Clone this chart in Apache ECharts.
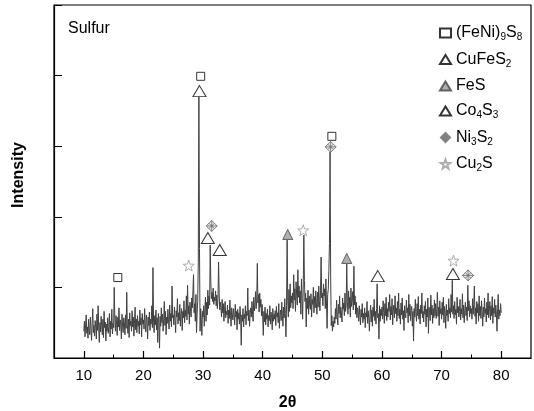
<!DOCTYPE html>
<html>
<head>
<meta charset="utf-8">
<script src="https://cdn.jsdelivr.net/npm/echarts@6/dist/echarts.min.js"></script>
<style>
  html, body { margin: 0; padding: 0; background: #fff; }
  #chart { width: 534px; height: 411px; }
</style>
</head>
<body>
<div id="chart"></div>
<script>
// XRD scan of the sulfur product: 2θ from 10° to 80° in 0.1° steps
const scanStart = 10;
const scanStep = 0.1;
const intensity = [
  0.38,0.52,0.30,0.47,0.61,0.35,0.44,0.28,0.55,0.40, // 10
  0.33,0.58,0.42,0.25,0.49,0.70,0.36,0.46,0.31,0.53, // 11
  0.44,0.27,0.62,0.39,0.74,0.41,0.22,0.50,0.37,0.59, // 12
  0.46,0.33,0.55,0.29,0.66,0.43,0.51,0.24,0.48,0.38, // 13
  0.57,0.35,0.45,0.63,0.30,0.52,0.41,0.69,0.34,0.49, // 14
  0.43,1.00,0.56,0.38,0.60,0.47,0.32,0.58,0.44,0.71, // 15
  0.39,0.54,0.48,0.27,0.62,0.45,0.36,0.57,0.50,0.33, // 16
  0.61,0.42,0.93,0.47,0.35,0.55,0.29,0.64,0.46,0.52, // 17
  0.38,0.67,0.44,0.58,0.31,0.49,0.72,0.40,0.55,0.36, // 18
  0.60,0.45,0.52,0.34,0.68,0.47,0.57,0.30,0.63,0.48, // 19
  0.54,0.41,0.70,0.49,0.37,0.61,0.52,0.27,0.58,0.46, // 20
  0.65,0.39,0.55,0.48,0.74,0.43,1.28,0.50,0.36,0.60, // 21
  0.47,0.68,0.40,0.57,0.22,0.63,0.51,0.14,0.59,0.45, // 22
  0.71,0.50,0.62,0.38,0.55,0.80,0.46,0.66,0.33,0.58, // 23
  0.49,0.69,0.54,0.41,0.75,0.52,0.63,0.44,1.02,0.57, // 24
  0.61,0.47,0.72,0.55,0.36,0.67,0.58,0.84,0.48,0.64, // 25
  0.53,0.76,0.45,0.63,0.70,0.39,0.66,0.57,0.81,0.50, // 26
  0.68,0.59,0.88,0.54,1.03,0.62,0.74,0.48,0.79,0.66, // 27
  0.58,0.85,0.71,0.95,1.18,0.64,0.77,0.52,0.90,0.36, // 28
  0.62,0.80,1.35,3.70,1.55,0.38,0.70,0.55,0.32,0.66, // 29
  0.58,0.74,0.45,0.68,0.86,0.52,0.79,0.61,0.96,0.70, // 30
  0.88,0.75,1.60,1.08,0.84,0.93,0.80,0.99,0.76,0.86, // 31
  0.81,0.95,0.74,0.89,0.70,0.84,1.36,0.92,0.68,0.79, // 32
  0.72,0.58,0.83,0.64,0.77,0.52,0.69,0.80,0.57,0.66, // 33
  0.61,0.75,0.49,0.68,0.56,0.82,0.60,0.45,0.71,0.63, // 34
  0.54,0.70,0.62,0.47,0.76,0.58,0.66,0.40,0.69,0.55, // 35
  0.64,0.48,0.73,0.57,0.18,0.61,0.52,0.70,0.44,0.62, // 36
  0.56,0.74,0.47,0.66,0.60,0.99,0.53,0.68,0.45,0.63, // 37
  0.71,0.58,0.80,0.62,0.52,0.86,0.67,0.75,0.94,0.70, // 38
  0.82,1.34,0.78,0.90,0.65,0.92,0.72,0.83,0.60,0.76, // 39
  0.58,0.32,0.66,0.51,0.72,0.47,0.63,0.55,0.69,0.44, // 40
  0.60,0.53,0.74,0.48,0.65,0.57,0.40,0.70,0.52,0.62, // 41
  0.55,0.67,0.46,0.73,0.58,0.64,0.50,0.77,0.42,0.61, // 42
  0.68,0.53,0.79,0.60,0.45,0.72,0.57,0.84,0.63,0.30, // 43
  0.74,1.67,0.82,0.58,0.97,0.66,1.05,0.71,0.88,0.78, // 44
  0.92,0.70,1.18,0.82,0.98,0.66,1.08,0.88,0.75,1.25, // 45
  0.86,1.02,0.78,0.95,0.62,1.12,0.84,0.55,0.99,1.74, // 46
  1.10,0.80,0.92,0.44,0.85,0.70,0.96,0.62,0.88,0.74, // 47
  0.69,0.91,0.58,0.83,0.76,1.00,0.64,0.87,0.71,0.95, // 48
  0.78,0.62,0.93,0.72,1.02,0.81,0.67,0.96,1.43,0.85, // 49
  0.92,0.74,1.05,0.88,0.98,0.70,1.12,1.10,0.42,0.90, // 50
  0.97,1.24,1.62,2.92,1.15,0.46,0.60,0.38,0.52,0.44, // 51
  0.58,0.49,0.70,0.55,0.82,0.61,0.47,0.76,0.63,0.88, // 52
  0.57,0.72,0.64,0.51,0.85,0.69,0.78,0.60,0.92,0.66, // 53
  0.74,1.33,0.80,0.62,0.95,0.70,0.86,0.58,0.99,0.73, // 54
  0.81,0.94,0.68,1.30,0.75,0.88,0.62,0.79,0.57,0.71, // 55
  0.66,0.52,0.74,0.60,0.47,0.69,0.58,0.77,0.50,0.63, // 56
  0.55,0.71,0.43,0.64,0.58,0.80,0.49,0.67,0.56,0.38, // 57
  0.62,0.75,0.51,0.68,0.45,0.72,0.59,0.83,0.53,0.66, // 58
  0.48,0.70,1.05,0.57,0.63,0.27,0.74,0.52,0.69,0.60, // 59
  0.72,0.55,0.81,0.64,0.49,0.77,0.60,0.86,0.53,0.70, // 60
  0.58,0.79,0.66,0.90,0.54,0.73,0.61,0.84,0.47,0.68, // 61
  0.75,0.57,0.88,0.63,0.71,0.52,0.80,0.60,0.92,0.56, // 62
  0.69,0.48,0.78,0.61,0.85,0.55,0.67,0.39,0.74,0.62, // 63
  0.57,0.82,0.64,0.71,0.50,0.90,0.60,0.76,0.53,0.68, // 64
  0.73,0.45,0.66,0.24,0.70,0.58,0.83,0.62,0.52,0.77, // 65
  0.60,0.87,0.55,0.69,0.48,0.75,0.63,0.92,0.57,0.66, // 66
  0.51,0.74,0.62,0.80,0.44,0.69,0.58,0.85,0.35,0.72, // 67
  0.64,0.53,0.89,0.61,0.75,0.49,0.70,0.57,0.82,0.60, // 68
  0.77,0.56,0.68,0.93,0.59,0.72,0.46,0.81,0.63,0.70, // 69
  0.55,0.79,0.61,0.86,0.50,0.73,0.65,0.42,0.76,0.60, // 70
  0.68,0.52,0.84,0.63,0.71,0.57,0.90,0.65,1.10,0.62, // 71
  0.74,0.56,0.80,0.61,0.69,0.48,0.86,0.64,0.73,0.58, // 72
  0.66,0.83,0.54,0.70,0.62,0.91,0.57,0.75,0.50,0.68, // 73
  0.79,0.60,0.72,0.53,1.03,0.67,0.81,0.58,0.74,0.63, // 74
  0.70,0.55,0.84,0.62,0.76,1.02,0.59,0.71,0.48,0.80, // 75
  0.64,0.77,0.52,0.88,0.60,0.73,0.56,0.81,0.67,0.45, // 76
  0.72,0.58,0.85,0.63,0.70,0.51,0.79,0.61,0.92,0.57, // 77
  0.66,0.80,0.54,0.74,0.60,0.87,0.49,0.71,0.63,0.83, // 78
  0.58,0.75,0.62,0.38,0.70,0.90,0.55,0.68,0.60,0.77, // 79
  0.64                                               // 80
];

// Phase markers [2θ, height]
const feNiS = [[15.7, 1.14], [29.6, 3.99], [51.6, 3.14]];
const cuFeS2 = [[29.4, 3.78], [32.8, 1.53], [59.3, 1.16]];
const feS = [[44.2, 1.75], [54.1, 1.41]];
const co4S3 = [[30.8, 1.70], [71.9, 1.19]];
const ni3S2 = [[31.45, 1.87], [51.4, 2.99], [74.45, 1.17]];
const cu2S = [[27.6, 1.31], [46.8, 1.81], [72.0, 1.38]];

const majorTicks = [10, 20, 30, 40, 50, 60, 70, 80];
const minorTicks = [15, 25, 35, 45, 55, 65, 75];

const phaseNames = ['FeNiS', 'CuFeS2', 'FeS', 'Co4S3', 'Ni3S2', 'Cu2S'];
const phaseLabels = {
  'FeNiS': '{a|(FeNi)}{s|9}{a|S}{s|8}',
  'CuFeS2': '{a|CuFeS}{s|2}',
  'FeS': '{a|FeS}',
  'Co4S3': '{a|Co}{s|4}{a|S}{s|3}',
  'Ni3S2': '{a|Ni}{s|3}{a|S}{s|2}',
  'Cu2S': '{a|Cu}{s|2}{a|S}'
};

const scan = intensity.map((v, i) => [+(scanStart + i * scanStep).toFixed(1), v]);

const crossDiamond = 'path://M5,0 L10,5 L5,10 L0,5 Z M5,0 L5,10 M0,5 L10,5 M2.5,2.5 L7.5,7.5 M7.5,2.5 L2.5,7.5';
const starPath = 'path://M5,0 L6.2,3.6 L10,3.7 L7,6 L8.1,9.6 L5,7.5 L1.9,9.6 L3,6 L0,3.7 L3.8,3.6 Z';

const font = 'Liberation Sans, Arial, sans-serif';

const chart = echarts.init(document.getElementById('chart'), null, { renderer: 'canvas' });

chart.setOption({
  animation: false,
  backgroundColor: '#fff',
  title: {
    text: 'Sulfur',
    left: 63,
    top: 16,
    textStyle: { fontFamily: font, fontSize: 16, fontWeight: 'normal', color: '#000' }
  },
  legend: {
    orient: 'vertical',
    left: 434,
    top: 20,
    itemGap: 9,
    itemWidth: 11,
    itemHeight: 9,
    data: phaseNames,
    formatter: name => phaseLabels[name],
    textStyle: {
      fontFamily: font,
      color: '#000',
      rich: {
        a: { fontFamily: font, fontSize: 16, color: '#000', lineHeight: 19, verticalAlign: 'middle' },
        s: { fontFamily: font, fontSize: 10, color: '#000', lineHeight: 19, verticalAlign: 'bottom' }
      }
    }
  },
  grid: {
    left: 54, right: 3, top: 5, bottom: 53,
    outerBoundsMode: 'none',
    containLabel: false,
    show: true, borderColor: '#000', borderWidth: 1.2
  },
  xAxis: [
    {
      type: 'value', min: 5, max: 85, interval: 5,
      name: '2θ', nameLocation: 'middle', nameGap: 37,
      nameTextStyle: { fontFamily: font, fontSize: 16, fontWeight: 'bold', color: '#000', padding: [0, 10, 0, 0] },
      axisLine: { show: true, lineStyle: { color: '#000', width: 1.2 } },
      axisTick: { show: true, inside: true, length: 7, customValues: majorTicks, lineStyle: { color: '#000', width: 1.2 } },
      axisLabel: {
        customValues: majorTicks, margin: 10,
        fontFamily: font, fontSize: 15, color: '#000',
        formatter: v => (v % 10 === 0 && v >= 10 && v <= 80) ? String(v) : ''
      },
      splitLine: { show: false }
    },
    {
      type: 'value', min: 5, max: 85, interval: 5, position: 'bottom',
      axisLine: { show: false },
      axisTick: { show: true, inside: true, length: 3.5, customValues: minorTicks, lineStyle: { color: '#000', width: 1 } },
      axisLabel: { show: false },
      splitLine: { show: false }
    }
  ],
  yAxis: {
    type: 'value', min: 0, max: 5, interval: 1,
    name: 'Intensity', nameLocation: 'middle', nameGap: 27,
    nameTextStyle: { fontFamily: font, fontSize: 16, fontWeight: 'bold', color: '#000', padding: [0, 0, 0, 13] },
    axisLine: { show: true, lineStyle: { color: '#000', width: 1.2 } },
    axisTick: { show: true, inside: true, length: 8, lineStyle: { color: '#000', width: 1 } },
    axisLabel: { show: false },
    splitLine: { show: false }
  },
  series: [
    {
      name: 'scan', type: 'line', data: scan, xAxisIndex: 0,
      showSymbol: false, symbol: 'none',
      lineStyle: { color: '#404040', width: 1 },
      z: 2
    },
    {
      name: 'FeNiS', type: 'scatter', data: feNiS, symbol: 'rect', symbolSize: 8,
      itemStyle: { color: '#fff', borderColor: '#000', borderWidth: 1 }, z: 5
    },
    {
      name: 'CuFeS2', type: 'scatter', data: cuFeS2, symbol: 'triangle', symbolSize: [13, 11],
      itemStyle: { color: '#fff', borderColor: '#000', borderWidth: 1 }, z: 5
    },
    {
      name: 'FeS', type: 'scatter', data: feS, symbol: 'triangle', symbolSize: [10, 10],
      itemStyle: { color: '#9a9a9a', borderColor: '#444', borderWidth: 1 }, z: 5
    },
    {
      name: 'Co4S3', type: 'scatter', data: co4S3, symbol: 'triangle', symbolSize: [13, 11],
      itemStyle: { color: '#fff', borderColor: '#000', borderWidth: 1 }, z: 5
    },
    {
      name: 'Ni3S2', type: 'scatter', data: ni3S2, symbol: crossDiamond, symbolSize: 11,
      itemStyle: { color: '#e6e6e6', borderColor: '#666', borderWidth: 1 }, z: 5
    },
    {
      name: 'Cu2S', type: 'scatter', data: cu2S, symbol: starPath, symbolSize: 11,
      itemStyle: { color: '#fff', borderColor: '#999', borderWidth: 1 }, z: 5
    }
  ]
});
</script>
</body>
</html>
